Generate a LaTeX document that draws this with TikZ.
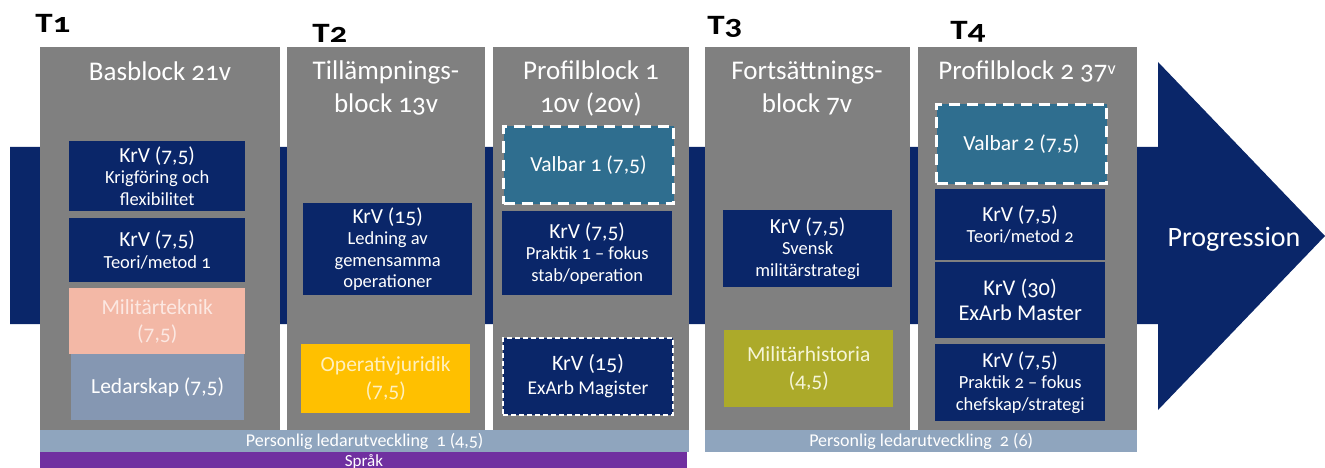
\documentclass[tikz,border=0pt]{standalone}
\usepackage{fontspec}
\setmainfont{Carlito}[Numbers=OldStyle]
\definecolor{navy}{RGB}{10,38,105}
\definecolor{colgray}{RGB}{128,128,128}
\definecolor{valbar}{RGB}{47,110,143}
\definecolor{salmon}{RGB}{243,184,166}
\definecolor{salmontxt}{RGB}{252,232,226}
\definecolor{ledar}{RGB}{133,151,178}
\definecolor{pers}{RGB}{143,165,190}
\definecolor{sprak}{RGB}{112,48,160}
\definecolor{gold}{RGB}{255,192,0}
\definecolor{goldtxt}{RGB}{255,240,190}
\definecolor{olive}{RGB}{172,170,42}
\definecolor{olivetxt}{RGB}{245,245,215}
\newcommand{\fa}{\fontsize{21.5}{23}\selectfont}
\begin{document}
\begin{tikzpicture}[x=1pt,y=-1pt,
  colbox/.style={fill=colgray,draw=none,inner sep=0pt,anchor=north west},
  blk/.style={draw=none,text=white,align=center,inner sep=0pt,anchor=north west,font=\fontsize{21.5}{26}\selectfont},
  navyblk/.style={blk,fill=navy,font=\fontsize{18.5}{21.5}\selectfont},
  valbox/.style={blk,fill=valbar,draw=white,line width=3pt,dash pattern=on 11pt off 7pt},
  title/.style={text=white,align=center,font=\fontsize{27}{33}\selectfont,inner sep=0pt,anchor=north},
  tlab/.style={font=\bfseries\fontsize{28}{30}\selectfont,text=black,inner sep=0pt,anchor=base west,xscale=1.25},
  bar/.style={draw=none,inner sep=0pt,anchor=north west}
]
\useasboundingbox (0,0) rectangle (1325,468);
% big arrow
\fill[navy] (10,147) -- (1158,147) -- (1158,62) -- (1325,236) -- (1158,410) -- (1158,324) -- (10,324) -- cycle;
\node[text=white,font=\fontsize{28}{30}\selectfont,inner sep=0pt] (prog) at (1234,239) {Progression};
% columns
\node[colbox,minimum width=240,minimum height=390] (c1) at (40,47) {};
\node[colbox,minimum width=198,minimum height=390] (c2) at (287,47) {};
\node[colbox,minimum width=196,minimum height=390] (c3) at (493,47) {};
\node[colbox,minimum width=205,minimum height=390] (c4) at (705,47) {};
\node[colbox,minimum width=219,minimum height=390] (c5) at (918,47) {};
% titles
\node[title] (t1) at (160,62) {Basblock 21v};
\node[title] (t2) at (386,61) {Tillämpnings-\\block 13v};
\node[title] (t3) at (591,61) {Profilblock 1\\10v (20v)};
\node[title] (t4) at (807,61) {Fortsättnings-\\block 7v};
\node[title] (t5) at (1027,61) {Profilblock 2 37\raisebox{5pt}{\fontsize{18}{20}\selectfont v}};
% T labels
\node[tlab] (T1) at (35,33) {T1};
\node[tlab] (T2) at (312,43) {T2};
\node[tlab] (T3) at (707,35) {T3};
\node[tlab] (T4) at (950,40) {T4};
% column 1
\node[navyblk,minimum width=176,minimum height=70] (k1) at (69,141) {{\fa KrV (7,5)}\\Krigföring och\\flexibilitet};
\node[navyblk,minimum width=176,minimum height=64] (k2) at (69,218) {{\fa KrV (7,5)}\\Teori/metod 1};
\node[blk,fill=salmon,text=salmontxt,minimum width=176,minimum height=66] (mt) at (69,288) {Militärteknik\\(7,5)};
\node[blk,fill=ledar,minimum width=173,minimum height=66] (ls) at (71,354) {Ledarskap (7,5)};
% column 2
\node[navyblk,minimum width=169,minimum height=92] (k3) at (303,203) {{\fa KrV (15)}\\Ledning av\\gemensamma\\operationer};
\node[blk,fill=gold,text=goldtxt,minimum width=169,minimum height=69] (oj) at (301,344) {Operativjuridik\\(7,5)};
% column 3
\node[valbox,minimum width=170,minimum height=77] (v1) at (502,125) {Valbar 1 (7,5)};
\node[navyblk,minimum width=170,minimum height=84] (k4) at (502,211) {{\fa KrV (7,5)}\\Praktik 1 – fokus\\stab/operation};
\node[navyblk,font=\fontsize{19.5}{24}\selectfont,draw=white,line width=2pt,dash pattern=on 5pt off 3pt,minimum width=170,minimum height=77] (k5) at (502,337) {{\fontsize{22}{24}\selectfont KrV (15)}\\ExArb Magister};
% column 4
\node[navyblk,minimum width=169,minimum height=77] (k6) at (723,210) {{\fa KrV (7,5)}\\Svensk\\militärstrategi};
\node[blk,fill=olive,text=olivetxt,minimum width=169,minimum height=77] (mh) at (724,330) {Militärhistoria\\(4,5)};
% column 5
\node[valbox,minimum width=170,minimum height=79] (v2) at (935,103) {Valbar 2 (7,5)};
\node[navyblk,minimum width=170,minimum height=71] (k7) at (935,189) {{\fa KrV (7,5)}\\Teori/metod 2};
\node[navyblk,font=\fontsize{22.5}{25}\selectfont,minimum width=170,minimum height=76] (k8) at (935,262) {KrV (30)\\ExArb Master};
\node[navyblk,minimum width=170,minimum height=77] (k9) at (935,344) {{\fa KrV (7,5)}\\Praktik 2 – fokus\\chefskap/strategi};
% bottom bars
\node[bar,fill=pers,minimum width=649,minimum height=22] (p1) at (40,430) {};
\node[text=white,font=\fontsize{18}{20}\selectfont,inner sep=0pt] (p1t) at (p1.center) {Personlig ledarutveckling\ \ 1 (4,5)};
\node[bar,fill=sprak,minimum width=647,minimum height=17] (sp) at (40,452) {};
\node[text=white,font=\fontsize{17}{19}\selectfont,inner sep=0pt,anchor=base] (spt) at (364,466) {Språk};
\node[bar,fill=pers,minimum width=432,minimum height=22] (p2) at (705,430) {};
\node[text=white,font=\fontsize{18}{20}\selectfont,inner sep=0pt] (p2t) at (p2.center) {Personlig ledarutveckling\ \ 2 (6)};
\end{tikzpicture}
\end{document}
